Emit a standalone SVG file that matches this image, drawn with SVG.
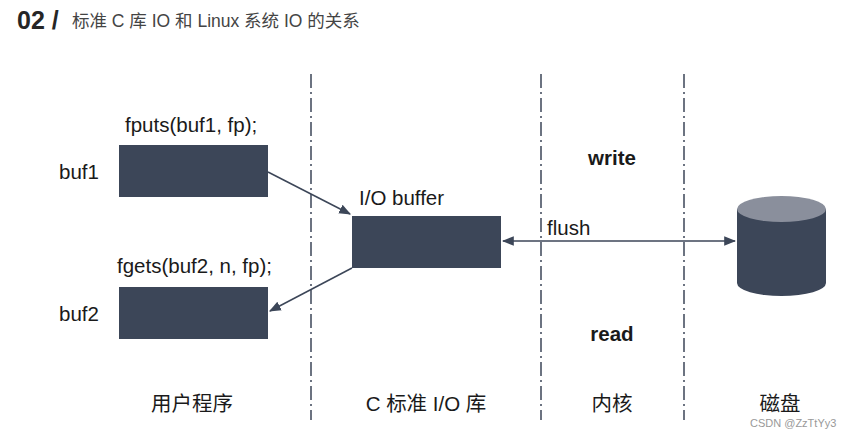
<svg xmlns="http://www.w3.org/2000/svg" width="856" height="438" viewBox="0 0 856 438">
<style>
.t{font-family:"Liberation Sans","Noto Sans CJK SC",sans-serif;fill:#1a1a1a;font-size:20.5px}
.b{fill:#3c4658}
.d{stroke:#3c4658;stroke-width:1.5;stroke-dasharray:14 4 2 4;fill:none}
.c{stroke:#3c4658;stroke-width:1.5;fill:none}
</style>
<defs><marker id="a" viewBox="0 0 10 10" refX="9" refY="5" markerWidth="8" markerHeight="8" orient="auto-start-reverse"><path d="M0,1 L10,5 L0,9 z" fill="#3c4658"/></marker></defs>
<rect width="856" height="438" fill="#fff"/>
<g id="title"><text x="17" y="29" font-family="Liberation Sans,sans-serif" font-weight="bold" font-size="25" fill="#262626">02 /</text>
<text x="72" y="27" font-family="Liberation Sans,Noto Sans CJK SC,sans-serif" font-size="17.5" fill="#444">标准 C 库 IO 和 Linux 系统 IO 的关系</text></g>
<g id="dividers">
<line class="d" x1="311" y1="74" x2="311" y2="420"/>
<line class="d" x1="541" y1="74" x2="541" y2="420"/>
<line class="d" x1="684" y1="74" x2="684" y2="420"/>
</g>
<g id="buf1"><rect class="b" x="119" y="145" width="149" height="52"/><text class="t" x="59" y="179">buf1</text><text class="t" x="125" y="132">fputs(buf1, fp);</text></g>
<g id="buf2"><rect class="b" x="119" y="287" width="149" height="52"/><text class="t" x="59" y="321">buf2</text><text class="t" x="117" y="273">fgets(buf2, n, fp);</text></g>
<g id="iobuf"><rect class="b" x="352" y="216" width="149" height="52"/><text class="t" x="359" y="205">I/O buffer</text></g>
<g id="disk"><path class="b" d="M737,209 V283 A44.5,13 0 0 0 826,283 V209 Z"/><ellipse cx="781.5" cy="209" rx="44.5" ry="13" fill="#8a8f9c"/></g>
<g id="connectors">
<line class="c" x1="268" y1="172" x2="350" y2="214" marker-end="url(#a)"/>
<line class="c" x1="352" y1="268" x2="270" y2="311" marker-end="url(#a)"/>
<line class="c" x1="503" y1="241" x2="735" y2="241" marker-start="url(#a)" marker-end="url(#a)"/>
<text class="t" x="547" y="235">flush</text>
</g>
<g id="labels">
<text class="t" x="612" y="165" text-anchor="middle" font-weight="bold">write</text>
<text class="t" x="612" y="341" text-anchor="middle" font-weight="bold">read</text>
<text class="t" x="192" y="411" text-anchor="middle">用户程序</text>
<text class="t" x="426" y="411" text-anchor="middle">C 标准 I/O 库</text>
<text class="t" x="612" y="411" text-anchor="middle">内核</text>
<text class="t" x="780" y="411" text-anchor="middle">磁盘</text>
<text x="750" y="427" font-family="Liberation Sans,sans-serif" font-size="11" fill="#999">CSDN @ZzTtYy3</text>
</g>
</svg>
